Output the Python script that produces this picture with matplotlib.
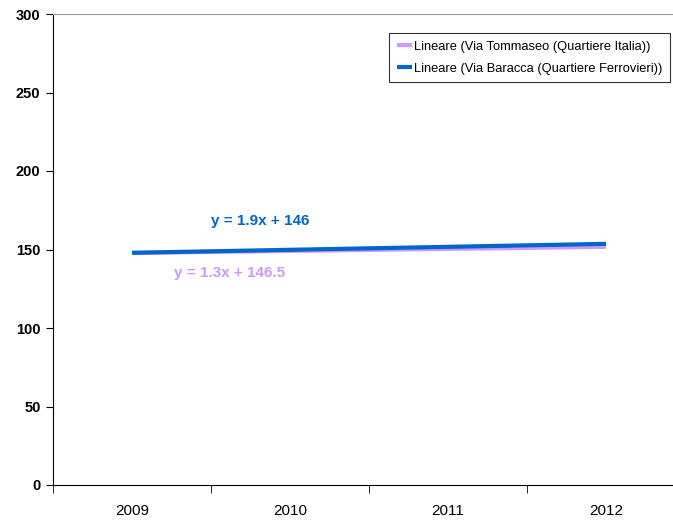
import matplotlib
matplotlib.use("Agg")
import matplotlib.pyplot as plt
from matplotlib import font_manager as fm

years = ["2009", "2010", "2011", "2012"]
tommaseo = [147.8, 149.1, 150.4, 151.7]
baracca = [147.9, 149.8, 151.7, 153.6]
label_t = "Lineare (Via Tommaseo (Quartiere Italia))"
label_b = "Lineare (Via Baracca (Quartiere Ferrovieri))"
eq_t = "y = 1.3x + 146.5"
eq_b = "y = 1.9x + 146"

names = {f.name for f in fm.fontManager.ttflist}
fam = "Liberation Sans Narrow" if "Liberation Sans Narrow" in names else "Liberation Sans"
plt.rcParams['font.family'] = [fam, 'DejaVu Sans']

W, H = 673, 528
fig = plt.figure(figsize=(W/100, H/100), dpi=100)
x0, x1, y0, y1 = 53, 685, 14, 485
ax = fig.add_axes([x0/W, 1 - y1/H, (x1-x0)/W, (y1-y0)/H])

xs = list(range(len(years)))
ax.plot(xs, tommaseo, color="#CC99FF", lw=3, label=label_t, solid_capstyle='butt')
ax.plot(xs, baracca, color="#0066CC", lw=3, label=label_b, solid_capstyle='butt')

ax.set_xlim(-0.5, len(years) - 0.5)
ax.set_ylim(0, 300)
ax.set_yticks(range(0, 301, 50))
ax.set_yticklabels([str(v) for v in range(0, 301, 50)], fontweight='bold', fontsize=10.5)
ax.set_xticks(xs)
ax.set_xticklabels(years, fontsize=11)
ax.set_xticks([i - 0.5 for i in range(len(years) + 1)], minor=True)
ax.tick_params(axis='x', which='major', length=0, pad=14)
ax.tick_params(axis='x', which='minor', length=6, direction='out', color='black')
ax.tick_params(axis='y', length=5, direction='out', pad=4)

ax.spines['right'].set_visible(False)
ax.spines['top'].set_color('#999999')
ax.spines['left'].set_color('black')
ax.spines['bottom'].set_color('black')

ax.text(0.81, 168, eq_b, color="#0066CC", fontsize=11, fontweight='bold', ha='center', va='center')
ax.text(0.62, 135, eq_t, color="#CC99FF", fontsize=11, fontweight='bold', ha='center', va='center')

leg = ax.legend(loc='upper left', bbox_to_anchor=((389-x0)/(x1-x0), 1 - (33-y0)/(y1-y0)),
                frameon=True, fancybox=False, edgecolor='black', fontsize=9.3,
                handlelength=1.2, handletextpad=0.1, borderpad=0.6, labelspacing=0.75,
                borderaxespad=0)
leg.get_frame().set_linewidth(0.8)

fig.savefig("out.png", dpi=100)
